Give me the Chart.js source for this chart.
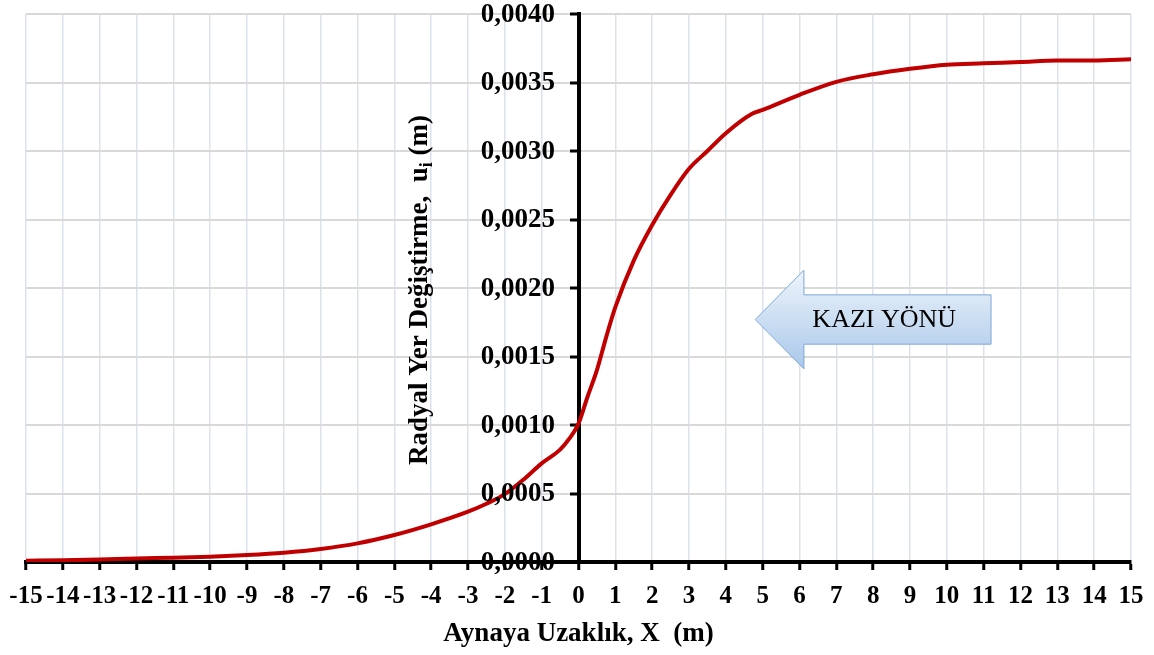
<!DOCTYPE html>
<html>
<head>
<meta charset="utf-8">
<script src="https://cdn.jsdelivr.net/npm/chart.js@4/dist/chart.umd.min.js"></script>
<style>
html,body{margin:0;padding:0;background:#fff;}
#wrap{width:1154px;height:655px;position:relative;}
</style>
</head>
<body>
<div id="wrap"><canvas id="c"></canvas></div>
<script>
// ---- data ----
const distanceX = [-15,-14,-13,-12,-11,-10,-9,-8,-7,-6,-5,-4,-3,-2.5,-2,-1.5,-1,-0.5,-0.25,0,0.25,0.5,0.75,1,1.5,2,2.5,3,3.5,4,4.7,5,6,7,8,9,10,11,12,13,14,15];
const radialDisp = [0.00001,0.000012,0.000018,0.000026,0.000031,0.000039,0.000051,0.000068,0.000095,0.000136,0.000197,0.000275,0.000367,0.000425,0.000495,0.0006,0.00072,0.00082,0.0009,0.00101,0.00121,0.0014,0.00164,0.00186,0.0022,0.00246,0.00268,0.00287,0.003,0.00313,0.00327,0.0033,0.00341,0.003505,0.00356,0.0036,0.00363,0.00364,0.00365,0.00366,0.00366,0.00367];
const xTicks = [-15,-14,-13,-12,-11,-10,-9,-8,-7,-6,-5,-4,-3,-2,-1,0,1,2,3,4,5,6,7,8,9,10,11,12,13,14,15];
const yTicks = [0,0.0005,0.001,0.0015,0.002,0.0025,0.003,0.0035,0.004];
const xTitle = 'Aynaya Uzaklık, X  (m)';
const yTitleMain = 'Radyal Yer Değiştirme,  u';
const yTitleSub = 'i';
const yTitleEnd = ' (m)';
const arrowText = 'KAZI YÖNÜ';
// arrow annotation in data units
const arrowTipX = 4.8, arrowHeadX = 6.12, arrowEndX = 11.2;
const arrowMidY = 0.00177, arrowHeadHalf = 0.00036, arrowBodyHalf = 0.00018;
const arrowTextX = 8.3;

const serif = "'Liberation Serif','Times New Roman',serif";
const fmtY = v => v.toFixed(4).replace('.', ',');

// y tick labels: drawn from the y scale's own ticks, left of the axis at x = 0
const yLabelPlugin = {
  id: 'yLabels',
  afterDraw(chart) {
    const {ctx, scales: {x, y}} = chart;
    const ax = x.getPixelForValue(0);
    ctx.save();
    ctx.font = 'bold 27px ' + serif;
    ctx.fillStyle = '#000';
    ctx.textAlign = 'right';
    ctx.textBaseline = 'middle';
    y.ticks.forEach(t => {
      ctx.fillText(fmtY(t.value), ax - 23.5, y.getPixelForValue(t.value) + 1);
    });
    ctx.restore();
  }
};

const yTitlePlugin = {
  id: 'yTitle',
  afterDraw(chart) {
    const ctx = chart.ctx;
    ctx.save();
    const big = 'bold 27px ' + serif;
    const small = 'bold 18px ' + serif;
    ctx.font = big;
    const w1 = ctx.measureText(yTitleMain).width;
    const w3 = ctx.measureText(yTitleEnd).width;
    ctx.font = small;
    const w2 = ctx.measureText(yTitleSub).width;
    const total = w1 + w2 + w3;
    ctx.translate(418, 290);
    ctx.rotate(-Math.PI / 2);
    ctx.fillStyle = '#000';
    ctx.textBaseline = 'alphabetic';
    ctx.textAlign = 'left';
    const x0 = -total / 2;
    const base = 9;
    ctx.font = big;
    ctx.fillText(yTitleMain, x0, base);
    ctx.font = small;
    ctx.fillText(yTitleSub, x0 + w1, base + 5);
    ctx.font = big;
    ctx.fillText(yTitleEnd, x0 + w1 + w2, base);
    ctx.restore();
  }
};

const arrowPlugin = {
  id: 'arrow',
  afterDatasetsDraw(chart) {
    const {ctx, scales: {x, y}} = chart;
    const tx = x.getPixelForValue(arrowTipX);
    const hx = x.getPixelForValue(arrowHeadX);
    const ex = x.getPixelForValue(arrowEndX);
    const my = y.getPixelForValue(arrowMidY);
    const ht = y.getPixelForValue(arrowMidY + arrowHeadHalf);
    const hb = y.getPixelForValue(arrowMidY - arrowHeadHalf);
    const bt = y.getPixelForValue(arrowMidY + arrowBodyHalf);
    const bb = y.getPixelForValue(arrowMidY - arrowBodyHalf);
    ctx.save();
    ctx.beginPath();
    ctx.moveTo(tx, my);
    ctx.lineTo(hx, ht);
    ctx.lineTo(hx, bt);
    ctx.lineTo(ex, bt);
    ctx.lineTo(ex, bb);
    ctx.lineTo(hx, bb);
    ctx.lineTo(hx, hb);
    ctx.closePath();
    const g = ctx.createLinearGradient(0, ht, 0, hb);
    g.addColorStop(0, '#eef4fb');
    g.addColorStop(1, '#a9c8ea');
    ctx.fillStyle = g;
    ctx.fill();
    ctx.strokeStyle = '#7ea7d8';
    ctx.lineWidth = 1;
    ctx.stroke();
    ctx.fillStyle = '#000';
    ctx.font = '26px ' + serif;
    ctx.textAlign = 'center';
    ctx.textBaseline = 'middle';
    ctx.fillText(arrowText, x.getPixelForValue(arrowTextX), my + 1);
    ctx.restore();
  }
};

new Chart(document.getElementById('c'), {
  type: 'line',
  data: {
    datasets: [{
      data: distanceX.map((v, i) => ({x: v, y: radialDisp[i]})),
      borderColor: '#c00000',
      borderWidth: 4,
      pointRadius: 0,
      fill: false,
      cubicInterpolationMode: 'monotone'
    }]
  },
  options: {
    responsive: true,
    maintainAspectRatio: false,
    animation: false,
    layout: {padding: {left: 26, right: 23, top: 14, bottom: 0}},
    plugins: {legend: {display: false}, tooltip: {enabled: false}},
    scales: {
      x: {
        type: 'linear', position: 'bottom', min: -15, max: 15,
        afterBuildTicks: s => { s.ticks = xTicks.map(v => ({value: v})); },
        afterFit: s => { s.height = 93; s.paddingLeft = 0; s.paddingRight = 0; },
        ticks: {autoSkip: false, maxRotation: 0, color: '#000', padding: 11.5,
          font: {family: serif, size: 25, weight: 'bold'},
          callback: v => String(v)},
        grid: {color: '#dbe2ec', lineWidth: 1.5, tickColor: '#000', tickLength: 8, tickWidth: 3},
        border: {color: '#000', width: 4},
        title: {display: true, text: xTitle, color: '#000',
          font: {family: serif, size: 27, weight: 'bold', lineHeight: 1.0}, padding: {top: 0, bottom: 7}}
      },
      y: {
        type: 'linear', position: {x: 0}, min: 0, max: 0.004,
        afterBuildTicks: s => { s.ticks = yTicks.map(v => ({value: v})); },
        ticks: {display: false, callback: fmtY},
        grid: {color: '#d9d9d9', lineWidth: 2, tickColor: '#000', tickLength: 7, tickWidth: 3},
        border: {color: '#000', width: 4}
      }
    }
  },
  plugins: [arrowPlugin, yTitlePlugin, yLabelPlugin]
});
</script>
</body>
</html>
